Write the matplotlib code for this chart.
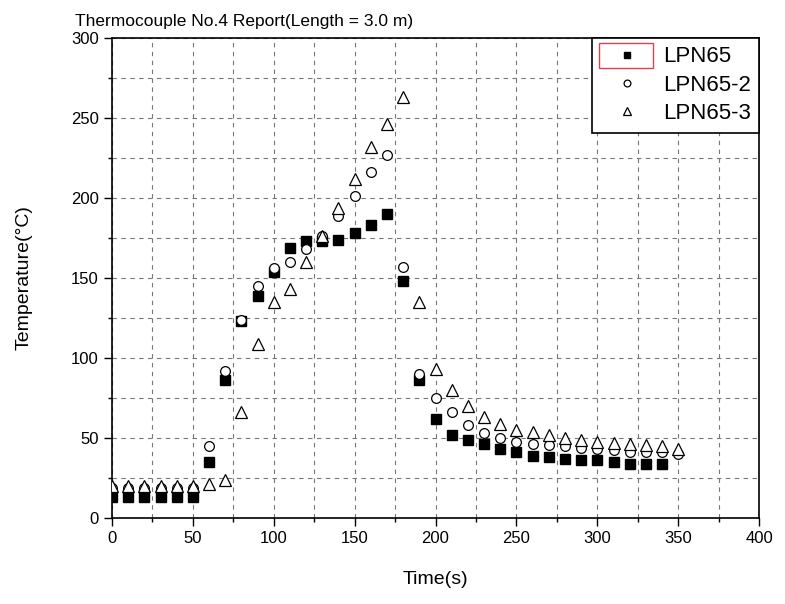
import matplotlib
matplotlib.use('Agg')
import matplotlib.pyplot as plt
from matplotlib.ticker import MultipleLocator
from matplotlib.patches import Rectangle

# Dados
tempo_a = list(range(0, 350, 10))
tempo_b = list(range(0, 360, 10))

lpn65 = [13, 13, 13, 13, 13, 13, 35, 86, 123, 139, 154, 169, 173, 173, 174, 178,
         183, 190, 148, 86, 62, 52, 49, 46, 43, 41, 39, 38, 37, 36, 36, 35, 34, 34, 33.5]
lpn65_2 = [19, 19, 19, 19, 19, 19, 45, 92, 124, 145, 156, 160, 168, 176, 189, 201,
           216, 227, 157, 90, 75, 66, 58, 53, 50, 47.5, 46.5, 45.6, 45, 43.5, 43, 42.5,
           41.5, 41.5, 41, 40]
lpn65_3 = [20, 20, 20, 20, 20, 20, 21, 23.5, 66, 109, 135, 143, 160, 176, 194, 212,
           232, 246, 263, 135, 93, 80, 70, 63, 59, 55, 54, 52, 50, 48.5, 47.5, 47, 46.5,
           45.5, 45, 43]

plt.rcParams['font.family'] = ['Liberation Sans Narrow', 'Liberation Sans', 'DejaVu Sans']

fig = plt.figure(figsize=(7.85, 6.04), dpi=100)
ax = fig.add_axes([0.1427, 0.1424, 0.8243, 0.7947])

ax.plot(tempo_a, lpn65, 's', color='black', markersize=7, label='LPN65', zorder=3)
ax.plot(tempo_b, lpn65_2, 'o', mfc='white', mec='black', markersize=7, mew=0.9,
        label='LPN65-2', zorder=3)
ax.plot(tempo_b, lpn65_3, '^', mfc='white', mec='black', markersize=8, mew=0.9,
        label='LPN65-3', zorder=3)

ax.set_xlim(0, 400)
ax.set_ylim(0, 300)
ax.xaxis.set_major_locator(MultipleLocator(50))
ax.xaxis.set_minor_locator(MultipleLocator(25))
ax.yaxis.set_major_locator(MultipleLocator(50))
ax.yaxis.set_minor_locator(MultipleLocator(25))

ax.grid(True, which='both', linestyle=(0, (4, 4)), color='#777777', linewidth=0.8)
ax.set_axisbelow(True)
ax.tick_params(which='major', direction='out', length=6, width=1, labelsize=12)
ax.tick_params(which='minor', direction='out', length=3, width=1)
for s in ax.spines.values():
    s.set_linewidth(1.2)

ax.set_xlabel('Time(s)', fontsize=14)
ax.set_ylabel('Temperature(°C)', fontsize=14)
ax.xaxis.set_label_coords(0.5, -0.11)
ax.yaxis.set_label_coords(-0.123, 0.5)
fig.text(0.0955, 0.965, 'Thermocouple No.4 Report(Length = 3.0 m)', fontsize=12.5,
         ha='left', va='center')

leg = ax.legend(loc='upper right', fontsize=16, frameon=True, fancybox=False,
                edgecolor='black', framealpha=1, borderaxespad=0, markerscale=0.7,
                handlelength=2.4, handletextpad=0.4, borderpad=0.38, labelspacing=0.33)
leg.get_frame().set_linewidth(1.2)

# moldura vermelha de seleção no primeiro item da legenda
fig.patches.append(Rectangle((0.7635, 0.887), 0.068, 0.042, transform=fig.transFigure,
                             fill=False, edgecolor='#e04050', linewidth=1, zorder=10))

fig.savefig('out.png', dpi=100)
